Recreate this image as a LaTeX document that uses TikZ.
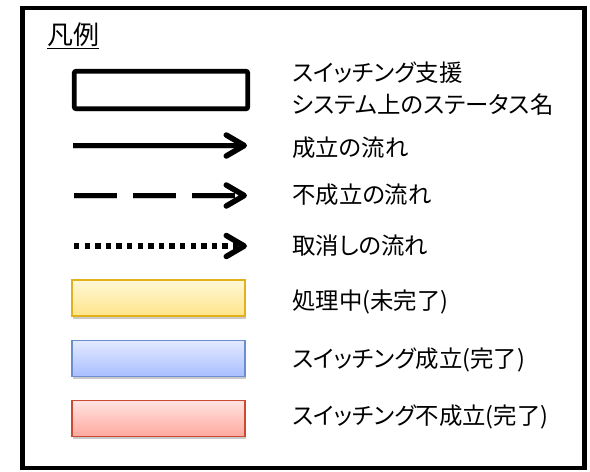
\documentclass[tikz,border=0pt]{standalone}
\usepackage{fontspec}
\newfontfamily\jp{Noto Sans CJK JP}[RawFeature=+palt]
\usetikzlibrary{arrows.meta,shadows}
\definecolor{ylT}{HTML}{FFF8D8}\definecolor{ylB}{HTML}{FFE488}\definecolor{ylD}{HTML}{E2B21C}
\definecolor{blT}{HTML}{E3EAFF}\definecolor{blB}{HTML}{A8BEFF}\definecolor{blD}{HTML}{6C8ED0}
\definecolor{rdT}{HTML}{FFE3E0}\definecolor{rdB}{HTML}{FFA89E}\definecolor{rdD}{HTML}{CB4A33}
\tikzset{
  lbl/.style={anchor=west, inner sep=0pt, font=\jp\fontsize{23.4}{32}\selectfont, align=left},
  shad/.style={drop shadow={shadow xshift=1pt, shadow yshift=-2.5pt, opacity=0.35, fill=black!60}},
  statusbox/.style={draw=black, line width=4.8pt, rounded corners=2pt, fill=white, shad},
  legbox/.style={line width=1.6pt, minimum width=173pt, minimum height=36pt, inner sep=0pt, shad},
  flow/.style={line width=5.5pt, #1, -{Straight Barb[length=18pt 0, width=21pt 0, line cap=round, line join=round]},
     preaction={draw=black, opacity=0.2, #1, transform canvas={yshift=-2.5pt}}},
  flow/.default={solid},
}
\begin{document}
\begin{tikzpicture}[x=1pt,y=-1pt]
\useasboundingbox (0,0) rectangle (590,472);
\node[draw=black, line width=4.5pt, minimum width=562pt, minimum height=460pt, inner sep=0pt] (frame) at (303.5,238) {};
\node[anchor=west, inner sep=0pt, font=\jp\fontsize{26}{28}\selectfont] (title) at (47,35.5) {\underline{凡例}};
% status box
\node[statusbox, minimum width=173.5pt, minimum height=37.5pt, inner sep=0pt] (sbox) at (161,90) {};
\node[lbl] (t1) at (292,89) {スイッチング支援\\システム上のステータス名};
% arrows
\coordinate (s1) at (73,145.5); \coordinate (e1) at (247,145.5);
\draw[flow] (s1) -- (e1);
\node[lbl] (t2) at (292,148) {成立の流れ};
\coordinate (s2) at (74,195.5); \coordinate (e2) at (247,195.5);
\draw[flow={dash pattern=on 43pt off 16pt}] (s2) -- (e2);
\node[lbl] (t3) at (292,195) {不成立の流れ};
\coordinate (s3) at (74,246); \coordinate (e3) at (247,246);
\draw[flow={dash pattern=on 5.3pt off 5.3pt}] (s3) -- (e3);
\node[lbl] (t4) at (292,246) {取消しの流れ};
% coloured boxes
\node[legbox, draw=ylD, top color=ylT, bottom color=ylB] (yb) at (158.5,298) {};
\node[lbl] (t5) at (292,302) {処理中(未完了)};
\node[legbox, draw=blD, top color=blT, bottom color=blB] (bb) at (158.5,358.5) {};
\node[lbl] (t6) at (292,360) {スイッチング成立(完了)};
\node[legbox, draw=rdD, top color=rdT, bottom color=rdB] (rb) at (158.5,418.5) {};
\node[lbl] (t7) at (292,417) {スイッチング不成立(完了)};
\end{tikzpicture}
\end{document}
